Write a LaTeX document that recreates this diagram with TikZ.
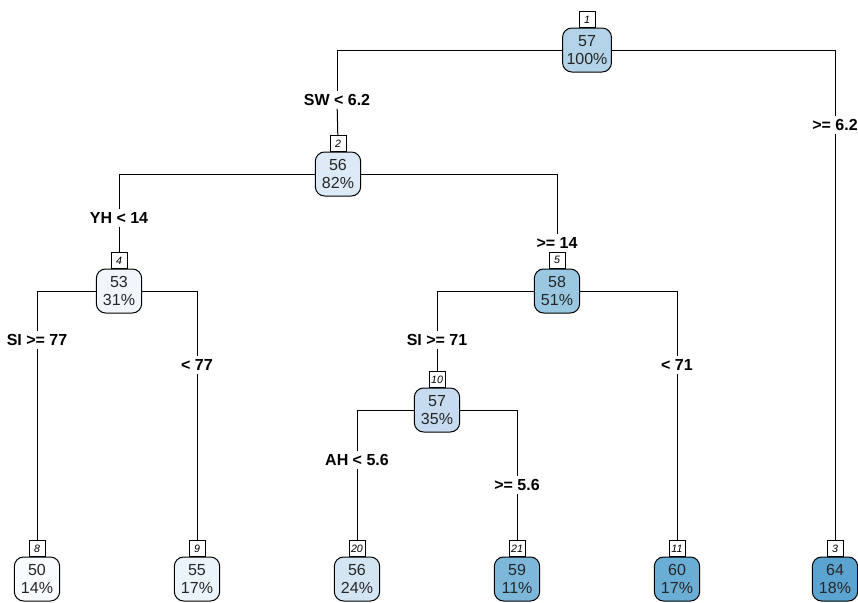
\documentclass[tikz,border=0pt]{standalone}
\usepackage{fontspec}
\setmainfont{Liberation Sans}
\usetikzlibrary{positioning}

\definecolor{blueA}{RGB}{178,211,232}
\definecolor{blueB}{RGB}{220,233,246}
\definecolor{blueD}{RGB}{240,246,252}
\definecolor{blueE}{RGB}{154,200,224}
\definecolor{blueJ}{RGB}{198,219,239}
\definecolor{leafH}{RGB}{248,251,255}
\definecolor{leafI}{RGB}{235,243,251}
\definecolor{leafT}{RGB}{211,228,243}
\definecolor{leafU}{RGB}{125,184,218}
\definecolor{leafK}{RGB}{106,174,214}
\definecolor{leafC}{RGB}{91,163,208}

\begin{document}
\begin{tikzpicture}[x=0.75pt,y=-0.75pt,line width=0.75pt,
    box/.style={draw, rounded corners=7pt, align=center, minimum width=34pt,
        minimum height=33pt, inner sep=3pt, text=black!85,
        font=\fontsize{12}{13.5}\selectfont},
    tag/.style={draw, fill=white, inner sep=1.5pt, minimum width=12pt,
        minimum height=11.5pt, font=\fontsize{8}{9}\selectfont\itshape},
    split/.style={inner sep=2pt, font=\fontsize{12}{14}\selectfont\bfseries}]
    \useasboundingbox (0,0) rectangle (858,603);

    % inner nodes
    \node (n1) [box, fill=blueA] at (587,50) {57\\100\%};
    \node (t1) [tag, above=0pt of n1] {1};
    \node (n2) [box, fill=blueB] at (338,174) {56\\82\%};
    \node (t2) [tag, above=0pt of n2] {2};
    \node (n4) [box, fill=blueD] at (119,291) {53\\31\%};
    \node (t4) [tag, above=0pt of n4] {4};
    \node (n5) [box, fill=blueE] at (557,291) {58\\51\%};
    \node (t5) [tag, above=0pt of n5] {5};
    \node (n10) [box, fill=blueJ] at (437,410) {57\\35\%};
    \node (t10) [tag, above=0pt of n10] {10};

    % leaves
    \node (n8) [box, fill=leafH] at (37,579) {50\\14\%};
    \node (t8) [tag, above=0pt of n8] {8};
    \node (n9) [box, fill=leafI] at (197,579) {55\\17\%};
    \node (t9) [tag, above=0pt of n9] {9};
    \node (n20) [box, fill=leafT] at (357,579) {56\\24\%};
    \node (t20) [tag, above=0pt of n20] {20};
    \node (n21) [box, fill=leafU] at (517,579) {59\\11\%};
    \node (t21) [tag, above=0pt of n21] {21};
    \node (n11) [box, fill=leafK] at (677,579) {60\\17\%};
    \node (t11) [tag, above=0pt of n11] {11};
    \node (n3) [box, fill=leafC] at (835,579) {64\\18\%};
    \node (t3) [tag, above=0pt of n3] {3};

    % split labels
    \node (sw) [split] at (337,100) {SW < 6.2};
    \node (sw2) [split] at (835,125) {>= 6.2};
    \node (yh) [split] at (119,218) {YH < 14};
    \node (yh2) [split] at (557,243) {>= 14};
    \node (si) [split] at (37,340) {SI >= 77};
    \node (si2) [split] at (197,365) {< 77};
    \node (sj) [split] at (437,340) {SI >= 71};
    \node (sj2) [split] at (677,365) {< 71};
    \node (ah) [split] at (357,460) {AH < 5.6};
    \node (ah2) [split] at (517,485) {>= 5.6};

    \draw (n1) -| (sw);  \draw (sw) -- (t2);
    \draw (n1) -| (sw2); \draw (sw2) -- (t3);
    \draw (n2) -| (yh);  \draw (yh) -- (t4);
    \draw (n2) -| (yh2); \draw (yh2) -- (t5);
    \draw (n4) -| (si);  \draw (si) -- (t8);
    \draw (n4) -| (si2); \draw (si2) -- (t9);
    \draw (n5) -| (sj);  \draw (sj) -- (t10);
    \draw (n5) -| (sj2); \draw (sj2) -- (t11);
    \draw (n10) -| (ah); \draw (ah) -- (t20);
    \draw (n10) -| (ah2); \draw (ah2) -- (t21);
\end{tikzpicture}
\end{document}
